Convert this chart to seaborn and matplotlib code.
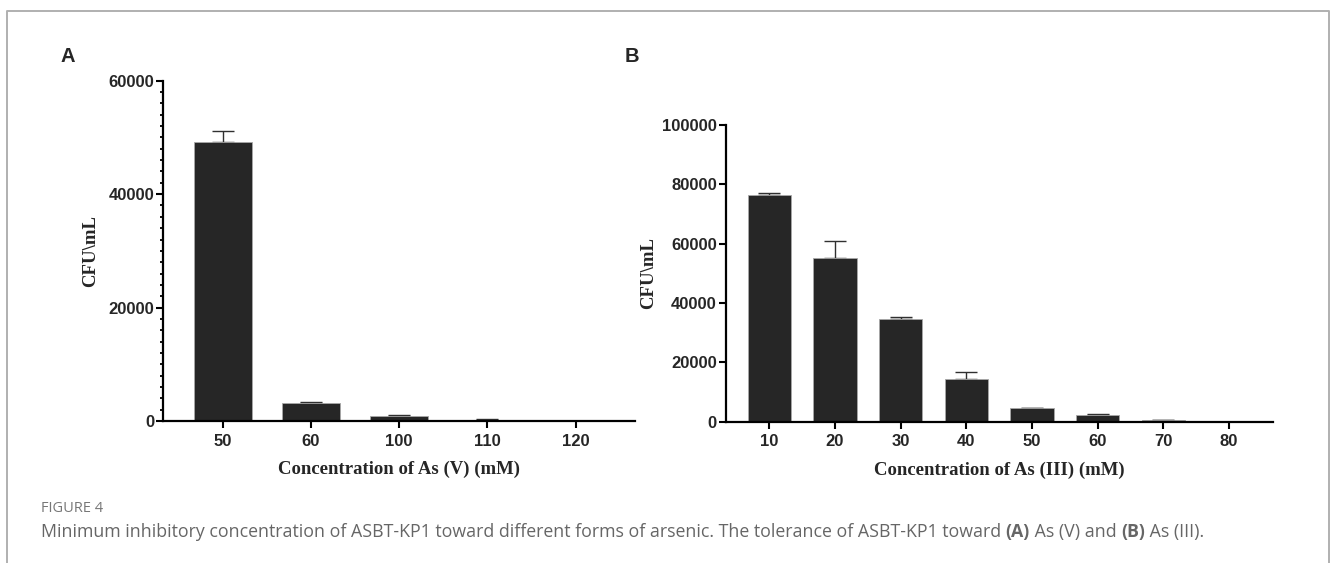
import numpy as np
import pandas as pd
import matplotlib
matplotlib.use("Agg")
import matplotlib.pyplot as plt
from matplotlib.lines import Line2D
from matplotlib.ticker import AutoMinorLocator, FixedLocator
import seaborn as sns

# ---- data ----
conc_as5 = ["50", "60", "100", "110", "120"]
cfu_as5 = [49200, 3150, 850, 250, 40]
err_as5 = [2000, 150, 150, 60, 0]

conc_as3 = ["10", "20", "30", "40", "50", "60", "70", "80"]
cfu_as3 = [76500, 55200, 34700, 14300, 4500, 2250, 450, 40]
err_as3 = [700, 5800, 500, 2500, 100, 300, 150, 0]

yticks_a = [0, 20000, 40000, 60000]
yticks_b = [0, 20000, 40000, 60000, 80000, 100000]

sns.set_style("ticks")
W, H = 1330, 563
fig = plt.figure(figsize=(W / 100, H / 100), dpi=100)

BAR = "#262626"
TICKFONT = dict(family="Liberation Sans", weight="bold", size=12)
LABFONT = dict(family="Liberation Serif", weight="bold", size=13.5)


def px_rect(l, t, r, b):
    return [l / W, 1 - b / H, (r - l) / W, (b - t) / H]


def panel(rect, cats, vals, errs, yticks, xlim, xlabel, minor):
    ax = fig.add_axes(rect)
    df = pd.DataFrame({"conc": cats, "cfu": vals})
    sns.barplot(data=df, x="conc", y="cfu", order=cats, ax=ax, color=BAR,
                saturation=1, width=0.66, errorbar=None,
                edgecolor="#a8a8a8", linewidth=0.6, zorder=2)
    pos = np.arange(len(cats))
    errs = np.asarray(errs, dtype=float)
    mask = errs > 0
    ax.errorbar(pos[mask], np.asarray(vals)[mask],
                yerr=[np.zeros(mask.sum()), errs[mask]], fmt="none",
                ecolor="#303030", elinewidth=1.0, capsize=8, capthick=1.0,
                zorder=1)
    ax.set_xlim(*xlim)
    ax.set_ylim(0, yticks[-1])
    ax.yaxis.set_major_locator(FixedLocator(yticks))
    if minor:
        ax.yaxis.set_minor_locator(AutoMinorLocator(10))
        ax.tick_params(axis="y", which="minor", length=2.5, width=1.3,
                       color="black")
    ax.tick_params(axis="y", which="major", length=5, width=1.5,
                   color="black", pad=1.5)
    ax.tick_params(axis="x", which="major", length=5, width=1.5,
                   color="black", pad=4)
    for lab in ax.get_xticklabels() + ax.get_yticklabels():
        lab.set_fontfamily(TICKFONT["family"])
        lab.set_fontweight("bold")
        lab.set_fontsize(TICKFONT["size"])
    for s in ["top", "right"]:
        ax.spines[s].set_visible(False)
    for s in ["left", "bottom"]:
        ax.spines[s].set_linewidth(1.6)
        ax.spines[s].set_color("black")
    ax.set_xlabel(xlabel, **LABFONT, labelpad=9)
    ax.set_ylabel("CFU\\mL", **LABFONT)
    ax.set_facecolor("white")
    return ax


axA = panel(px_rect(163.3, 80.7, 635, 421), conc_as5, cfu_as5, err_as5,
            yticks_a, (-0.673, 4.672), "Concentration of As (V) (mM)", True)
axB = panel(px_rect(726, 125, 1273, 421.7), conc_as3, cfu_as3, err_as3,
            yticks_b, (-0.66, 7.67), "Concentration of As (III) (mM)", False)

axA.yaxis.set_label_coords((99.5 - 163.3) / (635 - 163.3), 0.5)
axB.yaxis.set_label_coords((657.5 - 726) / (1273 - 726), 0.5)

# panel letters
fig.text(68 / W, 1 - 57 / H, "A", family="Liberation Sans", weight="bold",
         size=14.5, ha="center", va="center")
fig.text(632 / W, 1 - 57 / H, "B", family="Liberation Sans", weight="bold",
         size=14.5, ha="center", va="center")

# border
fig.add_artist(Line2D([7 / W, 7 / W, 1329 / W, 1329 / W],
                      [0, 1 - 11 / H, 1 - 11 / H, 0],
                      color="#b0b0b0", lw=1.4, transform=fig.transFigure))

# caption
CAPC = "#666666"
fig.text(41 / W, 1 - 508 / H, "FIGURE 4", family="Open Sans", size=10.5,
         color="#777777", ha="left", va="center")
segments = [
    ("Minimum inhibitory concentration of ASBT-KP1 toward different forms of arsenic. "
     "The tolerance of ASBT-KP1 toward ", "normal"),
    ("(A)", "bold"),
    (" As (V) and ", "normal"),
    ("(B)", "bold"),
    (" As (III).", "normal"),
]
renderer = fig.canvas.get_renderer()
x = 41
for txt, wt in segments:
    t = fig.text(x / W, 1 - 532 / H, txt, family="Open Sans", size=12.8,
                 weight=wt, color=CAPC, ha="left", va="center")
    bb = t.get_window_extent(renderer=renderer)
    x += bb.width

fig.savefig("out.png", dpi=100, facecolor="white")
